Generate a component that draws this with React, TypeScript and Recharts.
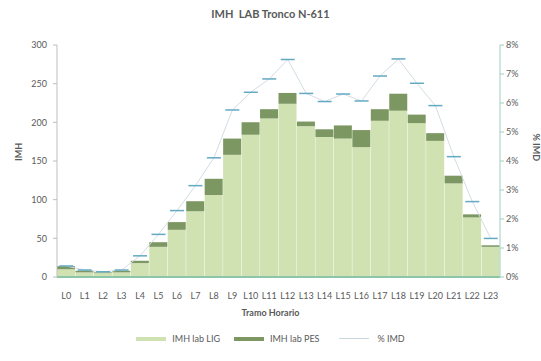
import React from 'react';
import { ComposedChart, Bar, Line, XAxis, YAxis } from 'recharts';

const tramos = ['L0', 'L1', 'L2', 'L3', 'L4', 'L5', 'L6', 'L7', 'L8', 'L9', 'L10', 'L11', 'L12', 'L13', 'L14', 'L15', 'L16', 'L17', 'L18', 'L19', 'L20', 'L21', 'L22', 'L23'];
const imhLig = [10, 6, 5, 6, 18, 39, 61, 85, 106, 158, 184, 205, 224, 195, 181, 179, 168, 202, 215, 199, 176, 121, 77, 39];
const imhPes = [4, 2, 1, 2, 3, 6, 10, 13, 21, 21, 16, 12, 14, 6, 10, 17, 22, 15, 22, 11, 10, 10, 4, 2];
const pctImd = [0.38, 0.24, 0.18, 0.24, 0.73, 1.47, 2.29, 3.15, 4.11, 5.76, 6.37, 6.83, 7.5, 6.33, 6.05, 6.31, 6.07, 6.93, 7.52, 6.68, 5.91, 4.15, 2.6, 1.33];
const leftTicks = [0, 50, 100, 150, 200, 250, 300];
const rightTicks = [0, 1, 2, 3, 4, 5, 6, 7, 8];

const data = tramos.map((t, i) => ({ tramo: t, lig: imhLig[i], pes: imhPes[i], pct: pctImd[i] }));

const FONT = 'Lato, "Open Sans", sans-serif';
const LIGHT = '#d0e1b2';
const DARK = '#7d9762';
const TEXT = '#595959';

const DashDot = (props: any) => {
  const { cx, cy } = props;
  if (cx == null || cy == null) return null;
  return <line x1={cx - 7} x2={cx + 7} y1={cy} y2={cy} stroke="#62a9c2" strokeWidth={1.5} />;
};

export default function App() {
  return (
    <div style={{ position: 'absolute', left: 0, top: 0, width: 541, height: 361, background: '#fff', fontFamily: FONT }}>
      <div style={{ position: 'absolute', top: 7, left: 0, width: 541, textAlign: 'center', fontSize: 11, fontWeight: 700, color: TEXT }}>
        IMH&nbsp; LAB Tronco N-611
      </div>
      <ComposedChart
        width={541}
        height={361}
        data={data}
        margin={{ top: 45, right: 11, left: 17, bottom: 64 }}
        barCategoryGap={0}
        barGap={0}
      >
        <XAxis
          dataKey="tramo"
          interval={0}
          height={20}
          tickMargin={10}
          tick={{ fontSize: 9, fill: TEXT, fontFamily: FONT }}
          axisLine={{ stroke: '#8cc5a8', strokeWidth: 2 }}
          tickLine={false}
        />
        <YAxis
          yAxisId="left"
          width={40}
          domain={[0, 300]}
          ticks={leftTicks}
          tick={{ fontSize: 9, fill: TEXT, fontFamily: FONT }}
          axisLine={{ stroke: '#bfbfbf' }}
          tickLine={{ stroke: '#bfbfbf' }}
          tickSize={4}
          tickMargin={6}
          label={{ value: 'IMH', angle: -90, position: 'insideLeft', offset: 0, dx: 2, style: { fontSize: 9, fontWeight: 700, fill: TEXT, fontFamily: FONT } }}
        />
        <YAxis
          yAxisId="right"
          orientation="right"
          width={30}
          domain={[0, 8]}
          ticks={rightTicks}
          tickFormatter={(v: number) => `${v}%`}
          tick={{ fontSize: 9, fill: TEXT, fontFamily: FONT }}
          axisLine={{ stroke: '#9fcfc0' }}
          tickLine={{ stroke: '#9fcfc0' }}
          tickSize={4}
          label={{ value: '% IMD', angle: 90, position: 'insideRight', offset: 0, dx: 6, style: { fontSize: 9, fontWeight: 700, fill: TEXT, fontFamily: FONT } }}
        />
        <Bar yAxisId="left" dataKey="lig" stackId="a" fill={LIGHT} isAnimationActive={false} />
        <Bar yAxisId="left" dataKey="pes" stackId="a" fill={DARK} isAnimationActive={false} />
        <Line
          yAxisId="right"
          type="linear"
          dataKey="pct"
          stroke="#d3dde3"
          strokeWidth={1}
          dot={<DashDot />}
          activeDot={false}
          isAnimationActive={false}
        />
      </ComposedChart>
      <div style={{ position: 'absolute', top: 307, left: 0, width: 541, textAlign: 'center', fontSize: 9, fontWeight: 700, color: TEXT }}>
        Tramo Horario
      </div>
      <div style={{ position: 'absolute', top: 333, left: 0, width: 541, display: 'flex', justifyContent: 'center', alignItems: 'center', fontSize: 9, color: TEXT, gap: 14 }}>
        <span style={{ display: 'flex', alignItems: 'center' }}>
          <span style={{ width: 30, height: 4, background: LIGHT, marginRight: 6, display: 'inline-block' }} />IMH lab LIG
        </span>
        <span style={{ display: 'flex', alignItems: 'center' }}>
          <span style={{ width: 30, height: 4, background: DARK, marginRight: 6, display: 'inline-block' }} />IMH lab PES
        </span>
        <span style={{ display: 'flex', alignItems: 'center', marginLeft: 6 }}>
          <span style={{ width: 30, height: 1, background: '#c9d6de', marginRight: 8, display: 'inline-block' }} />% IMD
        </span>
      </div>
    </div>
  );
}
